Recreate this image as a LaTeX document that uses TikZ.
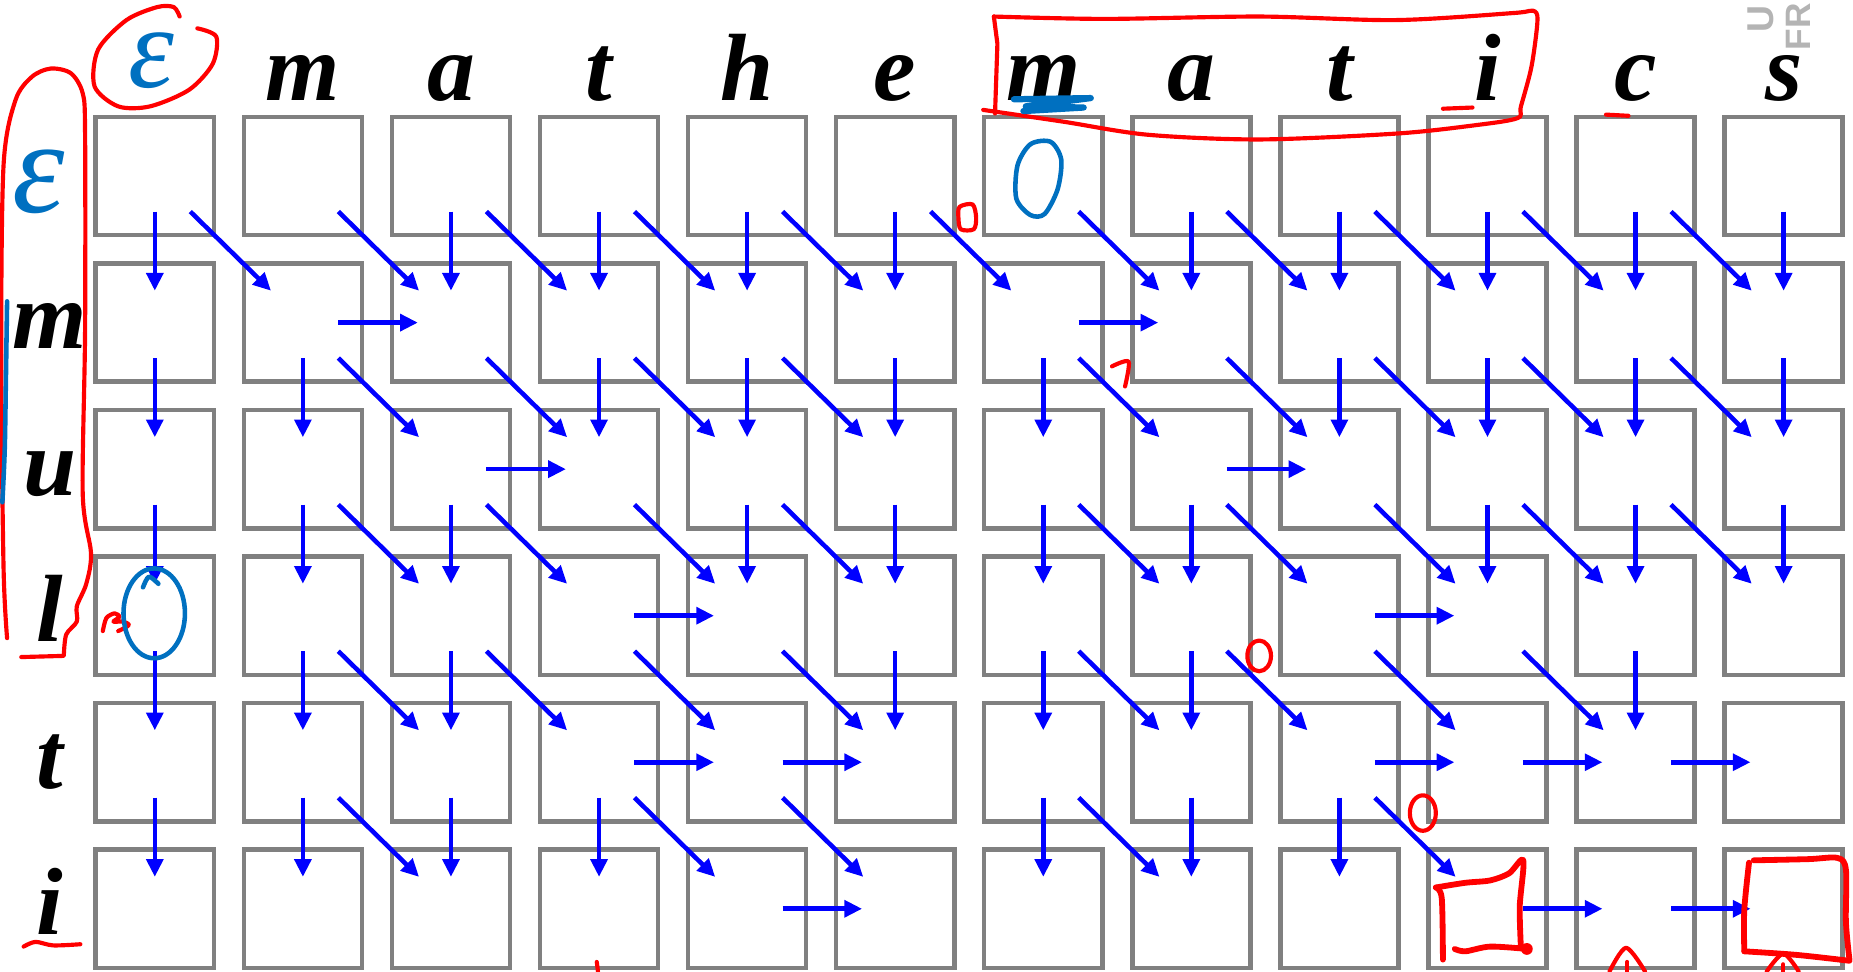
\documentclass[tikz,border=0pt]{standalone}
\usepackage{fontspec}
\setmainfont{Liberation Serif}
\newfontfamily\logofont{Liberation Sans}
\usepackage{tikz}
\usetikzlibrary{arrows.meta}

\definecolor{gridgray}{RGB}{128,128,128}
\definecolor{arrowblue}{RGB}{0,0,255}
\definecolor{inkred}{RGB}{255,0,0}
\definecolor{inkblue}{RGB}{0,112,192}
\definecolor{logogray}{RGB}{180,180,180}

\tikzset{
  cellbox/.style   = {draw=gridgray, line width=1.1pt, minimum width=10mm,
                      minimum height=10mm, inner sep=0pt, outer sep=0pt},
  arrowline/.style = {draw=arrowblue, line width=1.1pt,
                      -{Triangle[length=1.5mm,width=1.4mm]}},
  letter/.style    = {font=\fontsize{23}{23}\selectfont\bfseries\itshape,
                      anchor=base, inner sep=0pt},
  handtext/.style  = {text=inkblue, inner sep=0pt},
  penred/.style    = {draw=inkred, line width=1pt, line cap=round, line join=round},
  penblue/.style   = {draw=inkblue, line width=1.1pt, line cap=round, line join=round}
}

\begin{document}
\begin{tikzpicture}[x=0.1mm, y=-0.1mm]
  \useasboundingbox (0,0) rectangle (1568,822);

  % table cells
  \foreach \r in {0,...,5}
    \foreach \c in {0,...,11}
      \node[cellbox] (c-\r-\c) at ({131+125.3*\c},{149+124*\r}) {};

  % column and row letters
  \foreach \c/\ch in {1/m,2/a,3/t,4/h,5/e,6/m,7/a,8/t,9/i,10/c,11/s}
    \node[letter] (col-\c) at ({131+125.3*\c},85) {\ch};
  \foreach \r/\ch in {1/m,2/u,3/l,4/t,5/i}
    \node[letter] (row-\r) at (42,{171+124*\r}) {\ch};

  % handwritten epsilons
  \node[handtext, font=\fontsize{28}{28}\selectfont\itshape] (eps-col) at (128,51) {ε};
  \node[handtext, font=\fontsize{32}{32}\selectfont\itshape] (eps-row) at (33,154) {ε};

  % down steps
  \foreach \r/\cols in {1/{0,2,3,4,5,7,8,9,10,11}, 2/{0,1,3,4,5,6,8,9,10,11},
                        3/{0,1,2,4,5,6,7,9,10,11}, 4/{0,1,2,5,6,7,10},
                        5/{0,1,2,3,6,7,8}}{
    \pgfmathtruncatemacro\p{\r-1}
    \foreach \c in \cols
      \draw[arrowline] ([yshift=2mm]c-\p-\c.south) -- ([yshift=-2.3mm]c-\r-\c.north);
  }

  % diagonal steps
  \foreach \r/\cols in {1/{1,2,3,4,5,6,7,8,9,10,11}, 2/{2,3,4,5,7,8,9,10,11},
                        3/{2,3,4,5,7,8,9,10,11}, 4/{2,3,4,5,7,8,9,10},
                        5/{2,4,5,7,9}}{
    \pgfmathtruncatemacro\p{\r-1}
    \foreach \c in \cols{
      \pgfmathtruncatemacro\q{\c-1}
      \draw[arrowline] ([shift={(-2mm,2mm)}]c-\p-\q.south east)
                    -- ([shift={(2.3mm,-2.3mm)}]c-\r-\c.north west);
    }
  }

  % right steps
  \foreach \r/\cols in {1/{2,7}, 2/{3,8}, 3/{4,9}, 4/{4,5,9,10,11}, 5/{5,10,11}}{
    \foreach \c in \cols{
      \pgfmathtruncatemacro\q{\c-1}
      \draw[arrowline] ([xshift=-2mm]c-\r-\q.east) -- ([xshift=2.2mm]c-\r-\c.west);
    }
  }

  % red ink
  \draw[penred] plot[smooth] coordinates {(152,14) (147,6) (133,6) (107,17) (83,42)
    (80,73) (100,90) (127,90) (160,76) (180,54) (183,31) (167,24)};
  \draw[penred] plot[smooth] coordinates {(6,540) (3,480) (1,300) (3,140) (13,85)
    (27,65) (43,58) (60,62) (70,79) (72,113) (72,280) (70,418) (77,468) (73,494)
    (65,513) (65,526) (56,537) (54,555)} -- (18,556);
  \draw[penred] (842,96) -- (844,37) -- (841,14);
  \draw[penred] plot[smooth] coordinates {(841,14) (935,16) (1066,14) (1181,17)
    (1281,11) (1297,9) (1301,17) (1296,56) (1287,90) (1284,100) (1248,106)
    (1182,113) (1066,118) (971,114) (900,103) (832,93)};
  \draw[penred] (1221,92) -- (1246,91);
  \draw[penred] (1359,97) -- (1378,98);
  \draw[penred] plot[smooth cycle] coordinates {(812,175) (823,173) (826,184)
    (824,194) (813,194) (811,184)};
  \draw[penred] plot[smooth] coordinates {(941,310) (955,306) (952,327)};
  \draw[penred] plot[smooth] coordinates {(87,534) (90,523) (97,519) (101,522)
    (96,526) (104,526) (109,529) (100,534)};
  \draw[penred] (1065.5,555) ellipse [x radius=1mm, y radius=1.3mm];
  \draw[penred] (1204,688) ellipse [x radius=1.1mm, y radius=1.5mm];
  \draw[penred, line width=1.4pt] plot[smooth] coordinates {(1221,812) (1220,760) (1215,751)};
  \draw[penred, line width=1.4pt] plot[smooth] coordinates {(1215,751) (1240,747)
    (1261,745) (1277,739) (1289,728) (1286,767) (1287,802)};
  \draw[penred, line width=1.4pt] plot[smooth] coordinates {(1292,803) (1261,801)
    (1240,805) (1231,803)};
  \fill[inkred] (1292,803) circle [radius=0.5mm];
  \draw[penred, line width=1.4pt] plot[smooth] coordinates {(1484,728) (1530,727)
    (1555,726) (1562,736) (1562,780) (1565,812)};
  \draw[penred, line width=1.4pt] plot[smooth] coordinates {(1480,730) (1476,770) (1476,805)};
  \draw[penred, line width=1.4pt] plot[smooth] coordinates {(1476,805) (1520,808) (1565,813)};
  \draw[penred] plot[smooth] coordinates {(1362,822) (1376,802) (1392,822)};
  \draw[penred] (1377,814) -- (1377,822);
  \draw[penred] plot[smooth] coordinates {(1495,822) (1509,807) (1522,822)};
  \draw[penred] (1509,816) -- (1509,822);
  \draw[penred] plot[smooth] coordinates {(20,801) (30,797) (45,800) (68,799)};
  \draw[penred] (505,814) -- (506,822);

  % blue ink
  \draw[penblue] plot[smooth] coordinates {(6,255) (5,320) (4,380) (2,425)};
  \draw[penblue, line width=1.5pt] plot coordinates {(858,84) (923,83) (868,90)
    (917,91) (866,94)};
  \draw[penblue] plot[smooth cycle] coordinates {(889,120) (898,135) (895,160)
    (884,181) (872,182) (860,168) (861,140) (872,122)};
  \draw[penblue] (130.5,519) ellipse [x radius=2.6mm, y radius=3.8mm];
  \draw[penblue] plot[smooth] coordinates {(121,497) (126,488) (134,494)};

  % logo corner
  \node[text=logogray, font=\logofont\bfseries\fontsize{9}{9}\selectfont,
        rotate=90, anchor=west, inner sep=0pt] (logo-a) at (1490,28) {U};
  \node[text=logogray, font=\logofont\bfseries\fontsize{8.5}{8.5}\selectfont,
        rotate=90, anchor=east, inner sep=0pt] (logo-b) at (1522,2) {FR};
\end{tikzpicture}
\end{document}
